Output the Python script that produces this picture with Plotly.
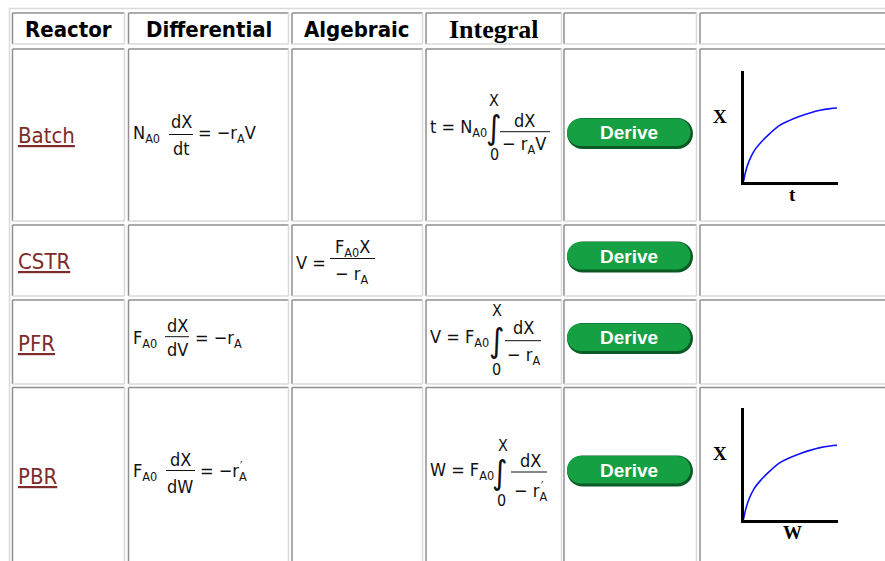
import plotly.graph_objects as go

# ---------------- data ----------------
headers = ["Reactor", "Differential", "Algebraic", "Integral", "", ""]
reactors = ["Batch", "CSTR", "PFR", "PBR"]
button_label = "Derive"

# differential design equations (lhs, numerator, denominator, rhs, primed rate)
diff_lhs = ["N<sub>A0</sub>", None, "F<sub>A0</sub>", "F<sub>A0</sub>"]
diff_num = ["dX", None, "dX", "dX"]
diff_den = ["dt", None, "dV", "dW"]
diff_rhs = ["= \u2212r<sub>A</sub>V", None, "= \u2212r<sub>A</sub>", "= \u2212r<sub>A</sub>"]
diff_prime = [False, False, False, True]

# algebraic design equation
alg_lhs = [None, "V =", None, None]
alg_num = [None, "F<sub>A0</sub>X", None, None]
alg_den = [None, "\u2212 r<sub>A</sub>", None, None]

# integral design equations
int_lhs = ["t = N<sub>A0</sub>", None, "V = F<sub>A0</sub>", "W = F<sub>A0</sub>"]
int_upper = ["X", None, "X", "X"]
int_lower = ["0", None, "0", "0"]
int_num = ["dX", None, "dX", "dX"]
int_den = ["\u2212 r<sub>A</sub>V", None, "\u2212 r<sub>A</sub>", "\u2212 r<sub>A</sub>"]
int_prime = [False, False, False, True]

# conversion profiles (read from the small sketches)
batch_t = [0, 0.7, 1.7, 3.2, 5.2, 7.7, 10.7, 13.7, 16.7, 19.7, 22.7, 25.7, 27.7]
batch_X = [0, 3.2, 6.2, 9.2, 11.7, 14.2, 16.7, 18.2, 19.4, 20.4, 21.2, 21.7, 21.9]
pbr_W = [0, 0.7, 1.7, 3.2, 5.2, 7.7, 10.7, 13.7, 16.7, 19.7, 22.7, 25.7, 27.7]
pbr_X = [0, 3.2, 6.2, 9.2, 11.7, 14.2, 16.7, 18.2, 19.4, 20.4, 21.2, 21.7, 21.9]
sketch_xlabels = ["t", "W"]
sketch_ylabel = "X"

# ---------------- layout geometry (pixels) ----------------
W, H = 885, 561
col_l = [12.5, 128.5, 292, 426, 564, 700]
col_r = [124.5, 288.5, 422.5, 561.5, 696.5, 905]
row_t = [13, 49, 225, 300, 387.5]
row_b = [44, 221, 296, 384, 600]

EQ_FONT = "Liberation Sans Narrow, Arial Narrow, DejaVu Sans Condensed, sans-serif"
HEAD_FONT = "DejaVu Sans Condensed, Tahoma, DejaVu Sans, sans-serif"
SERIF = "Liberation Serif, Times New Roman, serif"
EQ_SIZE = 18

fig = go.Figure()
# invisible anchor trace for the pixel canvas axes
fig.add_trace(go.Scatter(x=[0], y=[0], mode="markers", marker=dict(opacity=0),
                         hoverinfo="skip", showlegend=False))


def txt(x, y, s, size=EQ_SIZE, fam=EQ_FONT, color="#111111", xanchor="center"):
    fig.add_annotation(x=x, y=y, xref="x", yref="y", text=s, showarrow=False,
                       font=dict(family=fam, size=size, color=color),
                       xanchor=xanchor, yanchor="middle")


def hline(x0, x1, y, color="#000000", w=1):
    fig.add_shape(type="line", x0=x0, x1=x1, y0=y, y1=y, xref="x", yref="y",
                  line=dict(color=color, width=w))


def vline(x, y0, y1, color="#000000", w=1):
    fig.add_shape(type="line", x0=x, x1=x, y0=y0, y1=y1, xref="x", yref="y",
                  line=dict(color=color, width=w))


def pill(x0, x1, yc, h, color):
    r = h / 2.0
    k = 0.5523 * r
    y0, y1 = yc - r, yc + r
    p = (f"M{x0 + r},{y0} L{x1 - r},{y0} "
         f"C{x1 - r + k},{y0} {x1},{yc - k} {x1},{yc} "
         f"C{x1},{yc + k} {x1 - r + k},{y1} {x1 - r},{y1} "
         f"L{x0 + r},{y1} "
         f"C{x0 + r - k},{y1} {x0},{yc + k} {x0},{yc} "
         f"C{x0},{yc - k} {x0 + r - k},{y0} {x0 + r},{y0} Z")
    fig.add_shape(type="path", path=p, xref="x", yref="y",
                  fillcolor=color, line=dict(width=0))


# ---------------- table frame ----------------
DARK, LIGHT = "#8f8f8f", "#dadada"
hline(9.5, 905, 8.5, LIGHT, 1.5)
vline(9.5, 8.5, 600, LIGHT, 1.5)
for ri in range(5):
    for ci in range(6):
        x0, x1, y0, y1 = col_l[ci], col_r[ci], row_t[ri], row_b[ri]
        hline(x0, x1, y0, DARK, 1.5)
        vline(x0, y0, y1, DARK, 1.5)
        hline(x0, x1, y1, LIGHT, 1.5)
        vline(x1, y0, y1, LIGHT, 1.5)

# ---------------- headers ----------------
for ci, h in enumerate(headers):
    if not h:
        continue
    cx = (col_l[ci] + col_r[ci]) / 2
    if h == "Integral":
        txt(cx, 29, f"<b>{h}</b>", size=26, fam=SERIF, color="#000000")
    else:
        txt(cx, 29, f"<b>{h}</b>", size=22, fam=HEAD_FONT, color="#000000")

# ---------------- rows ----------------
row_text_y = [135, 261, 343, 476]
for i, name in enumerate(reactors):
    txt(16, row_text_y[i], f"<u>{name}</u>", size=22, fam=HEAD_FONT,
        color="#7d2b2b", xanchor="left")

# differential column placement
diff_pos = [
    dict(y=134, fx=181, ny=121, by=134.5, dy=148.5, bx0=169, bx1=193, rx=196),
    None,
    dict(y=339, fx=177, ny=325, by=336.7, dy=349.5, bx0=165, bx1=189, rx=193),
    dict(y=472, fx=180, ny=459, by=470.5, dy=486, bx0=166, bx1=195, rx=198),
]
for i in range(4):
    if diff_lhs[i] is None:
        continue
    p = diff_pos[i]
    txt(131, p["y"], diff_lhs[i], xanchor="left")
    txt(p["fx"], p["ny"], diff_num[i])
    hline(p["bx0"], p["bx1"], p["by"], "#111111", 1)
    txt(p["fx"], p["dy"], diff_den[i])
    txt(p["rx"], p["y"], diff_rhs[i], xanchor="left")
    if diff_prime[i]:
        txt(p["rx"] + 43, p["y"] - 6, "\u2032", size=12)

# algebraic column
for i in range(4):
    if alg_lhs[i] is None:
        continue
    txt(294, 262, alg_lhs[i], xanchor="left")
    txt(352, 248, alg_num[i])
    hline(330, 375, 258.5, "#111111", 1)
    txt(351, 275, alg_den[i])

# integral column
int_pos = [
    dict(y=128, ix=493, iy=127, ux=494, uy=100, lx=494, ly=154, fx=524, ny=120,
         by=131.7, dy=145, bx0=500, bx1=550),
    None,
    dict(y=338, ix=496, iy=340, ux=497, uy=310, lx=496, ly=369, fx=523, ny=327,
         by=340.7, dy=356, bx0=505, bx1=541),
    dict(y=471, ix=499, iy=472, ux=503, uy=445, lx=501, ly=500, fx=530, ny=460,
         by=472, dy=492, bx0=511, bx1=547),
]
for i in range(4):
    if int_lhs[i] is None:
        continue
    p = int_pos[i]
    txt(428, p["y"], int_lhs[i], xanchor="left")
    txt(p["ix"], p["iy"], "\u222b", size=33)
    txt(p["ux"], p["uy"], int_upper[i], size=16)
    txt(p["lx"], p["ly"], int_lower[i], size=16)
    txt(p["fx"], p["ny"], int_num[i])
    hline(p["bx0"], p["bx1"], p["by"], "#111111", 1)
    txt(p["fx"], p["dy"], int_den[i])
    if int_prime[i]:
        txt(p["fx"] + 12, p["dy"] - 6, "\u2032", size=12)

# Derive buttons
button_y = [133.5, 257, 338.5, 471]
for yc in button_y:
    pill(567, 693, yc, 31, "#0a5a24")
    pill(567, 690.5, yc - 1.2, 27.5, "#14a043")
    txt(629, yc - 1, f"<b>{button_label}</b>", size=19,
        fam="Liberation Sans, Arial, sans-serif", color="#ffffff")

# ---------------- mini profiles on their own axes ----------------
sketch_px = [(743.5, 838, 71, 181.5), (743.5, 838, 408, 519.5)]
series = [(batch_t, batch_X), (pbr_W, pbr_X)]
for k, ((xs, ys), (px0, px1, py0, py1)) in enumerate(zip(series, sketch_px)):
    xa, ya = f"xaxis{k + 2}", f"yaxis{k + 2}"
    xr, yr = f"x{k + 2}", f"y{k + 2}"
    fig.add_trace(go.Scatter(x=xs, y=ys, xaxis=xr, yaxis=yr, mode="lines",
                             line=dict(color="#1010ff", width=1.6, shape="spline"),
                             hoverinfo="skip", showlegend=False))
    fig.update_layout({
        xa: dict(domain=[px0 / W, px1 / W], range=[0, 28], anchor=yr,
                 showline=True, linewidth=3, linecolor="#000000", showgrid=False,
                 zeroline=False, showticklabels=False, ticks="", fixedrange=True),
        ya: dict(domain=[1 - py1 / H, 1 - py0 / H], range=[0, 32.9], anchor=xr,
                 showline=True, linewidth=3, linecolor="#000000", showgrid=False,
                 zeroline=False, showticklabels=False, ticks="", fixedrange=True),
    })
    txt(720, (py0 + py1) / 2 - 10, f"<b>{sketch_ylabel}</b>", size=19, fam=SERIF,
        color="#000000")
    txt(792, py1 + 13, f"<b>{sketch_xlabels[k]}</b>", size=19, fam=SERIF,
        color="#000000")

fig.update_layout(
    width=W, height=H,
    margin=dict(l=0, r=0, t=0, b=0),
    paper_bgcolor="#ffffff", plot_bgcolor="rgba(0,0,0,0)",
    xaxis=dict(range=[0, W], domain=[0, 1], visible=False, fixedrange=True),
    yaxis=dict(range=[H, 0], domain=[0, 1], visible=False, fixedrange=True),
    showlegend=False,
)

fig.write_html("out.html", config={"displayModeBar": False},
               post_script="document.body.style.margin='0px';"
                           "document.body.style.overflow='hidden';")
